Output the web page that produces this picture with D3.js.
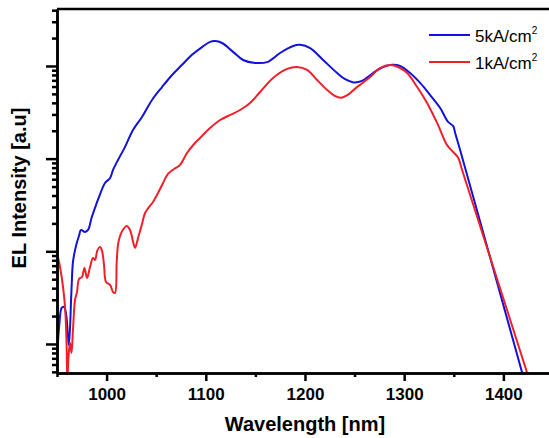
<!DOCTYPE html>
<html>
<head>
<meta charset="utf-8">
<script src="https://cdn.jsdelivr.net/npm/d3@7"></script>
<style>
  body { margin: 0; background: #fff; }
  text { font-family: Arial, "Liberation Sans", sans-serif; }
  .ejes path, .ejes line { stroke: #000; stroke-width: 2.5; }
  .ejes text { font-size: 17px; font-weight: bold; fill: #000; }
  .labels { font-size: 20px; font-weight: bold; fill: #000; }
  .leyenda { font-size: 17px; fill: #000; }
</style>
</head>
<body>
<div id="graf"></div>
<script>
// 5 kA/cm2
const wl5 = [950, 952.3, 954.7, 957, 959, 961.4, 962.1, 964.6, 966.1, 968.2, 970.2, 972.2, 974.2, 978.2, 981.3,
  984.8, 988.3, 991.6, 998.4, 1003.5, 1006.5, 1011.5, 1018.6, 1026.6, 1035.7, 1045.8, 1055.9, 1066, 1076.1,
  1086.1, 1096.2, 1104.3, 1109.3, 1116.4, 1127.5, 1137.6, 1149.7, 1161.8, 1174.9, 1188, 1195.1, 1205.2,
  1218.3, 1232.4, 1240.5, 1249, 1257.5, 1264.7, 1270.7, 1278.8, 1287.9, 1295.9, 1306, 1316.1, 1326.2, 1336.3,
  1344.3, 1349.4, 1351.4, 1356.4, 1419]
const el5 = [7.06e-4, 1.6e-3, 2.45e-3, 2.51e-3, 2.16e-3, 1.1e-3, 9.75e-4, 3.83e-3, 7.67e-3, 1.03e-2, 1.26e-2,
  1.47e-2, 1.7e-2, 1.62e-2, 1.7e-2, 2.29e-2, 2.94e-2, 3.67e-2, 5.46e-2, 6.18e-2, 7.55e-2, 9.68e-2, 0.134,
  0.204, 0.282, 0.43, 0.593, 0.8, 1.03, 1.32, 1.6, 1.82, 1.86, 1.77, 1.42, 1.16, 1.08, 1.1, 1.38, 1.64, 1.69,
  1.56, 1.16, 0.839, 0.72, 0.665, 0.69, 0.78, 0.87, 0.975, 1.03, 1.0, 0.839, 0.656, 0.486, 0.352, 0.249, 0.225,
  0.189, 0.124, 4.86e-4]

// 1 kA/cm2
const wl1 = [950, 952.3, 954.7, 956.4, 958.1, 959.1, 959.8, 960.4, 961.6, 963.1, 964.6, 966.1, 968.2, 970.2,
  972.2, 975.2, 977.7, 980.3, 983.3, 986.3, 988.3, 990.8, 993.4, 995.4, 997.4, 999.4, 1003.5, 1006.5, 1008.5,
  1010.2, 1011.8, 1015.3, 1020.3, 1023.6, 1027, 1028.7, 1032, 1035.4, 1038.8, 1042.1, 1046.8, 1051.9, 1056.9,
  1061.9, 1068, 1074, 1081.1, 1088.2, 1094.2, 1104.3, 1114.4, 1124.5, 1134.6, 1144.6, 1154.7, 1167.8, 1182,
  1192, 1202.1, 1212.2, 1222.3, 1229.5, 1236.5, 1243.5, 1250.6, 1257.6, 1265.7, 1275.8, 1285.8, 1293.9, 1303,
  1313.1, 1323.1, 1333.2, 1343.3, 1349.4, 1354.4, 1358.4, 1424]
const el1 = [9.59e-3, 7.48e-3, 5.28e-3, 3.83e-3, 2.51e-3, 1.53e-3, 8.61e-4, 4.09e-4, 7.24e-4, 1.03e-3, 8.0e-4,
  1.42e-3, 2.99e-3, 3.64e-3, 5.03e-3, 5.28e-3, 6.61e-3, 5.15e-3, 6.78e-3, 8.47e-3, 8.07e-3, 1.03e-2, 1.11e-2,
  1.01e-2, 7.12e-3, 4.67e-3, 4.33e-3, 3.64e-3, 3.55e-3, 7.67e-3, 1.23e-2, 1.62e-2, 1.88e-2, 1.7e-2, 1.23e-2,
  1.09e-2, 1.43e-2, 1.92e-2, 2.59e-2, 2.94e-2, 3.41e-2, 4.27e-2, 5.46e-2, 6.84e-2, 7.74e-2, 8.55e-2, 0.115,
  0.144, 0.167, 0.214, 0.261, 0.296, 0.335, 0.399, 0.524, 0.742, 0.929, 0.975, 0.906, 0.706, 0.551, 0.48,
  0.455, 0.49, 0.57, 0.65, 0.76, 0.951, 1.026, 0.975, 0.839, 0.593, 0.399, 0.243, 0.14, 0.118, 0.102, 7.55e-2,
  4.86e-4]

const xTicks = [1000, 1100, 1200, 1300, 1400]
const xMinor = [950, 1050, 1150, 1250, 1350]
const yTicks = [1e-3, 1e-2, 1e-1, 1]
const series = ["5kA/cm", "1kA/cm"]
const colores = ["#1212d8", "#f0202a"]

const graf = d3.select("#graf")
const margins = { left: 57, top: 9, right: 0, bottom: 65 }
const anchoTotal = 549
const altoTotal = 438
const ancho = anchoTotal - margins.left - margins.right
const alto = altoTotal - margins.top - margins.bottom

const svg = graf.append("svg")
  .attr("width", anchoTotal)
  .attr("height", altoTotal)

const g = svg.append("g")
  .attr("transform", `translate(${margins.left}, ${margins.top})`)

g.append("clipPath")
  .attr("id", "clip")
  .append("rect")
  .attr("width", ancho)
  .attr("height", alto)

const x = d3.scaleLinear().domain([950, 1446]).range([0, ancho])
const y = d3.scaleLog().domain([4.86e-4, 4.12]).range([alto, 0])

const yMinor = []
yTicks.concat([1e-4]).forEach((b) => {
  for (let k = 2; k <= 9; k++) {
    const v = b * k
    if (v >= y.domain()[0] && v <= y.domain()[1]) yMinor.push(v)
  }
})

const line = d3.line()
  .x((d) => x(d[0]))
  .y((d) => y(d[1]))
  .curve(d3.curveCatmullRom.alpha(0.5))

const datos = [d3.zip(wl5, el5), d3.zip(wl1, el1)]

g.selectAll("path.serie")
  .data(datos)
  .enter()
  .append("path")
  .attr("class", "serie")
  .attr("d", line)
  .attr("fill", "none")
  .attr("stroke", (d, i) => colores[i])
  .attr("stroke-width", 2)
  .attr("clip-path", "url(#clip)")

// ejes
g.append("g")
  .attr("class", "ejes")
  .attr("transform", `translate(0, ${alto})`)
  .call(d3.axisBottom(x).tickValues(xMinor).tickSize(4).tickSizeOuter(0).tickFormat(""))
g.append("g")
  .attr("class", "ejes")
  .attr("transform", `translate(0, ${alto})`)
  .call(d3.axisBottom(x).tickValues(xTicks).tickSize(8).tickPadding(7).tickSizeOuter(0).tickFormat(d3.format("d")))

g.append("g")
  .attr("class", "ejes")
  .call(d3.axisLeft(y).tickValues(yMinor).tickSize(5).tickSizeOuter(0).tickFormat(""))
g.append("g")
  .attr("class", "ejes")
  .call(d3.axisLeft(y).tickValues(yTicks).tickSize(11).tickSizeOuter(0).tickFormat(""))

g.append("line")
  .attr("x1", 0)
  .attr("x2", ancho)
  .attr("y1", 0)
  .attr("y2", 0)
  .attr("stroke", "#000")
  .attr("stroke-width", 2.5)

g.append("text")
  .attr("x", 305 - margins.left)
  .attr("y", 431 - margins.top)
  .attr("text-anchor", "middle")
  .attr("class", "labels")
  .text("Wavelength [nm]")

g.append("g")
  .attr("transform", `translate(${26 - margins.left}, ${188 - margins.top})`)
  .append("text")
  .attr("transform", "rotate(-90)")
  .attr("text-anchor", "middle")
  .attr("class", "labels")
  .text("EL Intensity [a.u]")

// leyenda
const leyenda = svg.selectAll("g.item")
  .data(series)
  .enter()
  .append("g")
  .attr("class", "item")
  .attr("transform", (d, i) => `translate(429, ${35 + i * 27})`)

leyenda.append("line")
  .attr("x1", 0)
  .attr("x2", 41)
  .attr("stroke", (d, i) => colores[i])
  .attr("stroke-width", 2)

const txt = leyenda.append("text")
  .attr("x", 46)
  .attr("y", 7)
  .attr("class", "leyenda")
txt.append("tspan").text((d) => d)
txt.append("tspan")
  .attr("dy", -8)
  .attr("font-size", 10)
  .text("2")
</script>
</body>
</html>
